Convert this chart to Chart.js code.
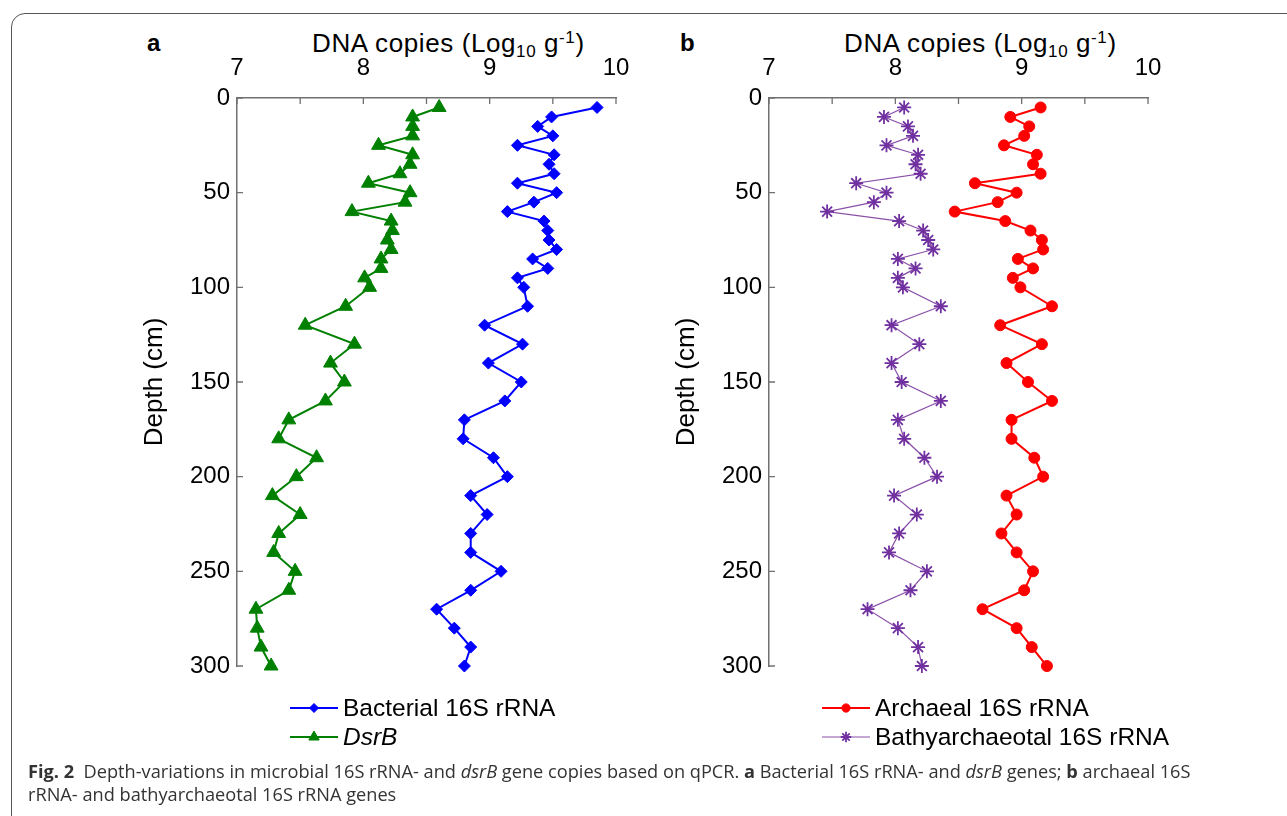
<!DOCTYPE html>
<html>
<head>
<meta charset="utf-8">
<script src="https://cdn.jsdelivr.net/npm/chart.js@4.4.1/dist/chart.umd.min.js"></script>
<style>
  body { margin: 0; width: 1287px; height: 816px; background: #fff; overflow: hidden; position: relative; font-family: Arial, 'Liberation Sans', Helvetica, sans-serif; }
  .frame { position: absolute; left: 11px; top: 13px; width: 1320px; height: 850px; border: 1.5px solid #555; border-radius: 14px; }
  canvas { position: absolute; }
  .panel { position: absolute; top: 31px; font-size: 24px; font-weight: bold; line-height: 24px; }
  .xtitle { position: absolute; top: 30px; font-size: 26px; line-height: 26px; letter-spacing: 0.6px; white-space: nowrap; }
  .xtitle sub { font-size: 17px; vertical-align: -5px; line-height: 0; }
  .xtitle sup { font-size: 17px; vertical-align: 9px; line-height: 0; }
  .caption { position: absolute; left: 28px; top: 760px; font-family: 'Open Sans', 'Noto Sans', sans-serif; font-size: 18.2px; line-height: 23px; color: #333; white-space: nowrap; }
</style>
</head>
<body>
<div class="frame"></div>
<div class="panel" style="left:147px">a</div>
<div class="panel" style="left:680px">b</div>
<div class="xtitle" style="left:312px">DNA copies (Log<sub>10</sub> g<sup>-1</sup>)</div>
<div class="xtitle" style="left:844px">DNA copies (Log<sub>10</sub> g<sup>-1</sup>)</div>
<canvas id="chartA" width="530" height="720" style="left:120px; top:40px"></canvas>
<canvas id="chartB" width="530" height="720" style="left:652px; top:40px"></canvas>
<div class="caption"><b>Fig. 2</b>&nbsp;&nbsp;Depth-variations in microbial 16S rRNA- and <i>dsrB</i> gene copies based on qPCR. <b>a</b> Bacterial 16S rRNA- and <i>dsrB</i> genes; <b>b</b> archaeal 16S<br>rRNA- and bathyarchaeotal 16S rRNA genes</div>

<script>
// depth of each sample (cm)
const depth = [5, 10, 15, 20, 25, 30, 35, 40, 45, 50, 55, 60, 65, 70, 75, 80, 85, 90, 95, 100,
  110, 120, 130, 140, 150, 160, 170, 180, 190, 200, 210, 220, 230, 240, 250, 260, 270, 280, 290, 300];

// DNA copies, log10 per g
const bacterial = [9.85, 9.49, 9.38, 9.50, 9.22, 9.51, 9.47, 9.51, 9.22, 9.53, 9.35, 9.14, 9.43, 9.46, 9.47, 9.53, 9.34, 9.46, 9.22, 9.27,
  9.30, 8.96, 9.26, 8.99, 9.25, 9.12, 8.80, 8.79, 9.03, 9.14, 8.85, 8.98, 8.85, 8.85, 9.09, 8.85, 8.58, 8.72, 8.85, 8.80];
const dsrB = [8.60, 8.39, 8.39, 8.39, 8.12, 8.39, 8.37, 8.29, 8.04, 8.37, 8.33, 7.91, 8.22, 8.23, 8.19, 8.22, 8.14, 8.14, 8.01, 8.05,
  7.86, 7.54, 7.93, 7.74, 7.85, 7.70, 7.41, 7.33, 7.63, 7.47, 7.28, 7.50, 7.33, 7.29, 7.46, 7.41, 7.15, 7.16, 7.19, 7.27];
const archaeal = [9.15, 8.91, 9.06, 9.02, 8.86, 9.12, 9.09, 9.15, 8.63, 8.96, 8.81, 8.47, 8.87, 9.07, 9.16, 9.17, 8.97, 9.09, 8.93, 8.99,
  9.24, 8.83, 9.16, 8.88, 9.05, 9.24, 8.92, 8.92, 9.10, 9.17, 8.88, 8.96, 8.84, 8.96, 9.09, 9.02, 8.69, 8.96, 9.08, 9.20];
const bathy = [8.07, 7.91, 8.10, 8.14, 7.93, 8.18, 8.16, 8.20, 7.69, 7.93, 7.83, 7.46, 8.03, 8.22, 8.26, 8.30, 8.02, 8.16, 8.02, 8.06,
  8.36, 7.97, 8.19, 7.97, 8.05, 8.36, 8.02, 8.07, 8.23, 8.33, 7.99, 8.17, 8.03, 7.95, 8.25, 8.12, 7.78, 8.02, 8.18, 8.21];

const xTickLabels = [7, 8, 9, 10];
const yTickLabels = [0, 50, 100, 150, 200, 250, 300];

const axisColor = '#707070';
const fontFamily = "Arial, 'Liberation Sans', Helvetica, sans-serif";
Chart.defaults.font.family = fontFamily;
Chart.defaults.color = '#000';

function toPoints(values) {
  return values.map((v, i) => ({ x: v, y: depth[i] }));
}

// tick marks pointing into the plot
const inwardTicks = {
  id: 'inwardTicks',
  afterDraw(chart) {
    const ctx = chart.ctx;
    const xs = chart.scales.x, ys = chart.scales.y;
    ctx.save();
    ctx.strokeStyle = axisColor;
    ctx.lineWidth = 1.3;
    ctx.beginPath();
    xs.ticks.forEach(t => {
      const px = xs.getPixelForValue(t.value);
      ctx.moveTo(px, xs.bottom);
      ctx.lineTo(px, xs.bottom + 6);
    });
    ys.ticks.forEach(t => {
      const py = ys.getPixelForValue(t.value);
      ctx.moveTo(ys.right, py);
      ctx.lineTo(ys.right + 6, py);
    });
    ctx.stroke();
    ctx.restore();
  }
};

// legend under the plot, one entry per row, line + marker
const lineLegend = {
  id: 'lineLegend',
  afterDraw(chart) {
    const ctx = chart.ctx;
    const area = chart.chartArea;
    chart.data.datasets.forEach((ds, i) => {
      const yy = area.bottom + 42 + i * 29;
      const x0 = area.left + 53, x1 = area.left + 101;
      ctx.save();
      ctx.strokeStyle = ds.borderColor;
      ctx.lineWidth = ds.borderWidth;
      ctx.beginPath();
      ctx.moveTo(x0, yy);
      ctx.lineTo(x1, yy);
      ctx.stroke();
      ctx.fillStyle = ds.pointBackgroundColor;
      ctx.strokeStyle = ds.pointBorderColor;
      ctx.lineWidth = ds.pointBorderWidth;
      Chart.helpers.drawPoint(ctx, {
        pointStyle: ds.pointStyle,
        radius: ds.pointRadius * 0.75,
        borderWidth: ds.pointBorderWidth,
        rotation: 0
      }, (x0 + x1) / 2, yy);
      ctx.fillStyle = '#000';
      ctx.font = (ds.italic ? 'italic ' : '') + '24.5px ' + fontFamily;
      ctx.textBaseline = 'middle';
      ctx.fillText(ds.label, area.left + 106, yy + 1);
      ctx.restore();
    });
  }
};

function makeOptions() {
  return {
    responsive: false,
    animation: false,
    layout: { padding: { left: 15, right: 34, top: 10, bottom: 94 } },
    plugins: { legend: { display: false }, tooltip: { enabled: false } },
    scales: {
      x: {
        type: 'linear',
        position: 'top',
        min: 7,
        max: 10,
        afterFit: s => { s.height = 48; },
        border: { display: true, color: axisColor, width: 1.5 },
        grid: { display: false, drawTicks: false },
        ticks: {
          stepSize: 0.5,
          autoSkip: false,
          maxRotation: 0,
          padding: 15,
          font: { size: 24 },
          callback: v => xTickLabels.includes(v) ? String(v) : ''
        }
      },
      y: {
        type: 'linear',
        reverse: true,
        min: 0,
        max: 300,
        afterFit: s => { s.width = 102; },
        border: { display: true, color: axisColor, width: 1.5 },
        grid: { display: false, drawTicks: false },
        title: { display: true, text: 'Depth (cm)', font: { size: 26 } },
        ticks: {
          stepSize: 50,
          autoSkip: false,
          padding: 7,
          font: { size: 24 },
          callback: v => yTickLabels.includes(v) ? String(v) : ''
        }
      }
    }
  };
}

new Chart(document.getElementById('chartA'), {
  type: 'line',
  data: {
    datasets: [
      {
        label: 'Bacterial 16S rRNA',
        data: toPoints(bacterial),
        borderColor: '#0000ff',
        backgroundColor: '#0000ff',
        borderWidth: 2,
        pointStyle: 'rectRot',
        pointRadius: 6,
        pointBackgroundColor: '#0000ff',
        pointBorderColor: '#0000ff',
        pointBorderWidth: 1,
        clip: false
      },
      {
        label: 'DsrB',
        italic: true,
        data: toPoints(dsrB),
        borderColor: '#008000',
        backgroundColor: '#008000',
        borderWidth: 2,
        pointStyle: 'triangle',
        pointRadius: 8,
        pointBackgroundColor: '#008000',
        pointBorderColor: '#008000',
        pointBorderWidth: 1,
        clip: false
      }
    ]
  },
  options: makeOptions(),
  plugins: [inwardTicks, lineLegend]
});

new Chart(document.getElementById('chartB'), {
  type: 'line',
  data: {
    datasets: [
      {
        label: 'Archaeal 16S rRNA',
        data: toPoints(archaeal),
        borderColor: '#ff0000',
        backgroundColor: '#ff0000',
        borderWidth: 2,
        pointStyle: 'circle',
        pointRadius: 5.5,
        pointBackgroundColor: '#ff0000',
        pointBorderColor: '#ff0000',
        pointBorderWidth: 1,
        clip: false
      },
      {
        label: 'Bathyarchaeotal 16S rRNA',
        data: toPoints(bathy),
        borderColor: '#8a50a8',
        backgroundColor: '#7030a0',
        borderWidth: 1.2,
        pointStyle: 'star',
        pointRadius: 7,
        pointBackgroundColor: '#7030a0',
        pointBorderColor: '#7030a0',
        pointBorderWidth: 1.8,
        clip: false
      }
    ]
  },
  options: makeOptions(),
  plugins: [inwardTicks, lineLegend]
});
</script>
</body>
</html>
